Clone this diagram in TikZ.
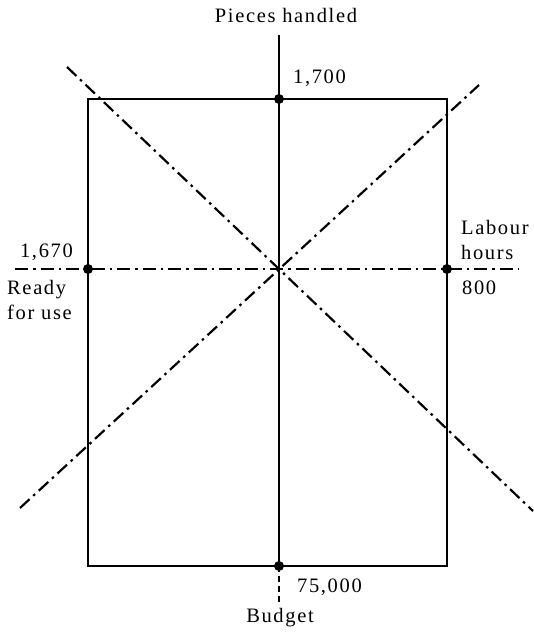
\documentclass[tikz,border=0pt]{standalone}
\usepackage{fontspec}
\setmainfont{Liberation Serif}[LetterSpace=8]
\usetikzlibrary{positioning}
\tikzstyle{frame} = [line width=2pt]
\tikzstyle{axis}  = [line width=2.2pt, dash pattern=on 13pt off 5pt on 2.5pt off 5pt]
\tikzstyle{tail}  = [line width=2pt, dash pattern=on 6pt off 4pt]
\tikzstyle{dot}   = [circle, fill=black, inner sep=0pt, minimum size=10pt]
\tikzstyle{lbl}   = [font=\fontsize{20.5}{25}\selectfont, inner sep=0pt]

\begin{document}
\begin{tikzpicture}[x=1pt, y=-1pt]
  \useasboundingbox (0,0) rectangle (534,633);
  % frame and points on it
  \coordinate (tl) at (88,99);
  \coordinate (br) at (447,566);
  \draw[frame] (tl) rectangle (br);
  \node[dot] (pieces) at (279,99)  {};
  \node[dot] (ready)  at (88,269)  {};
  \node[dot] (labour) at (447,269) {};
  \node[dot] (budget) at (279,566) {};

  % axes
  \coordinate (vtop) at (279,35);
  \coordinate (vend) at (279,604);
  \coordinate (hl)   at (15,269);
  \coordinate (hr)   at (518,269);
  \coordinate (d1a)  at (67,67);
  \coordinate (d1b)  at (533,511);
  \coordinate (d2a)  at (20,508);
  \coordinate (d2b)  at (479,85);
  \draw[frame] (vtop) -- (budget.center);
  \draw[tail]  (budget.center) -- (vend);
  \draw[axis]  (hl) -- (hr);
  \draw[axis]  (d1a) -- (d1b);
  \draw[axis]  (d2a) -- (d2b);

  % labels
  \node[lbl, anchor=base] (tpieces) at (286,22) {Pieces handled};
  \node[lbl, anchor=base west] (vpieces) at (293,83) {1,700};
  \node[lbl, anchor=base east] (vready) at (73,257) {1,670};
  \node[lbl, align=left, anchor=north west] (tready) at (7,280) {Ready\\for use};
  \node[lbl, align=left, anchor=north west] (tlabour) at (461,220) {Labour\\hours};
  \node[lbl, anchor=base west] (vlabour) at (462,294) {800};
  \node[lbl, anchor=base west] (vbudget) at (297,592) {75,000};
  \node[lbl, anchor=base] (tbudget) at (280,622) {Budget};
\end{tikzpicture}
\end{document}
